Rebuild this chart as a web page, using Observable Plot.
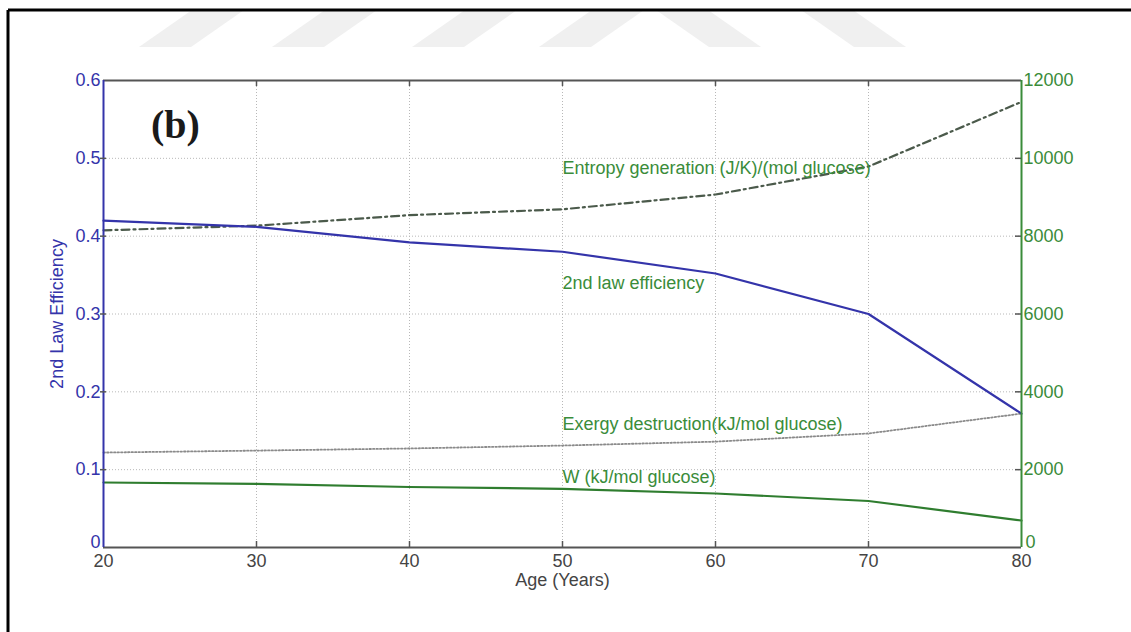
<!DOCTYPE html>
<html>
<head>
<meta charset="utf-8">
<script src="https://cdn.jsdelivr.net/npm/d3@7"></script>
<script src="https://cdn.jsdelivr.net/npm/@observablehq/plot@0.6"></script>
<style>
  body { margin: 0; background: #fff; }
  #wrap { position: relative; width: 1131px; height: 632px; overflow: hidden; background: #fff; }
  #deco { position: absolute; left: 0; top: 0; }
  #chart { position: absolute; left: 0; top: 0; }
</style>
</head>
<body>
<div id="wrap">
  <svg id="deco" width="1131" height="632"></svg>
  <div id="chart"></div>
</div>
<script>
// ---- data ----
const ages = [20, 30, 40, 50, 60, 70, 80];
const efficiency = [0.42, 0.412, 0.392, 0.38, 0.352, 0.30, 0.172];           // left axis
const entropyGen = [8150, 8270, 8540, 8690, 9070, 9790, 11450];              // right axis
const exergyDest = [2440, 2490, 2545, 2620, 2720, 2930, 3440];               // right axis
const workW      = [1670, 1636, 1555, 1508, 1388, 1195, 694];                // right axis

const xTicks = [20, 30, 40, 50, 60, 70, 80];
const yTicks = [0, 0.1, 0.2, 0.3, 0.4, 0.5, 0.6];
const yTickLabels = ["0", "0.1", "0.2", "0.3", "0.4", "0.5", "0.6"];
const rightTickLabels = ["0", "2000", "4000", "6000", "8000", "10000", "12000"];
const rightMax = 12000;   // right axis top
const leftMax = 0.6;      // left axis top

const seriesNames = ["Entropy generation (J/K)/(mol glucose)", "2nd law efficiency",
                     "Exergy destruction(kJ/mol glucose)", "W (kJ/mol glucose)"];
const labelAge = [50, 50, 50, 50];
const labelValue = [0.487, 0.339, 0.159, 0.09];
const panelTag = ["(b)"];
const panelAge = [24.7];
const panelValue = [0.543];

// ---- decoration (frame + faint watermark) ----
const deco = d3.select("#deco");
const stripesUp = [139, 272, 412, 539];
const stripesDown = [709, 854];
stripesUp.forEach(a => deco.append("polygon")
  .attr("points", `${a},47 ${a+52},47 ${a+105},10 ${a+53},10`).attr("fill", "#f0f0f0"));
stripesDown.forEach(a => deco.append("polygon")
  .attr("points", `${a},47 ${a+52},47 ${a-1},10 ${a-53},10`).attr("fill", "#f0f0f0"));
deco.append("line").attr("x1", 8).attr("y1", 10).attr("x2", 1131).attr("y2", 10).attr("stroke", "#000").attr("stroke-width", 3);
deco.append("line").attr("x1", 8).attr("y1", 10).attr("x2", 8).attr("y2", 632).attr("stroke", "#000").attr("stroke-width", 3);

// ---- chart ----
const toLeft = v => v * leftMax / rightMax;
const rows = ages.map((a, i) => ({age: a, eff: efficiency[i], ent: toLeft(entropyGen[i]), exd: toLeft(exergyDest[i]), w: toLeft(workW[i])}));
const labels = seriesNames.map((n, i) => ({name: n, age: labelAge[i], v: labelValue[i]}));

const blue = "#3434aa";
const green = "#3a8c3a";
const W = 1131, H = 632, mL = 103, mR = 110, mT = 80, mB = 85;
const pw = W - mL - mR, ph = H - mT - mB;

const chart = Plot.plot({
  width: W, height: H,
  marginLeft: mL, marginRight: mR, marginTop: mT, marginBottom: mB,
  x: {domain: [20, 80]},
  y: {domain: [0, 0.6]},
  style: {fontFamily: "'Liberation Sans', Arial, sans-serif", fontSize: "18px", background: "transparent", overflow: "visible"},
  marks: [
    Plot.frame({fill: "#fff", stroke: "none"}),
    Plot.gridX(xTicks.slice(1, -1), {stroke: "#b8b8b8", strokeOpacity: 1, strokeDasharray: "1,2"}),
    Plot.gridY(yTicks.slice(1, -1), {stroke: "#b8b8b8", strokeOpacity: 1, strokeDasharray: "1,2"}),
    // series
    Plot.line(rows, {x: "age", y: "exd", stroke: "#8a8a8a", strokeWidth: 1.8, strokeDasharray: "1.5,2"}),
    Plot.line(rows, {x: "age", y: "w", stroke: "#2f7d2f", strokeWidth: 2.2}),
    Plot.line(rows, {x: "age", y: "ent", stroke: "#4b5a4b", strokeWidth: 2.2, strokeDasharray: "8,4,2,4"}),
    Plot.line(rows, {x: "age", y: "eff", stroke: blue, strokeWidth: 2.2}),
    // box
    Plot.ruleY([0.6], {stroke: "#555", strokeWidth: 2}),
    Plot.ruleY([0], {stroke: "#555", strokeWidth: 2}),
    Plot.ruleX([20], {stroke: blue, strokeWidth: 2}),
    Plot.ruleX([80], {stroke: green, strokeWidth: 2}),
    // inward ticks
    Plot.ruleY(yTicks.slice(1, -1), {stroke: "#555", strokeWidth: 1.5, insetRight: pw - 6, dx: -3}),
    Plot.ruleY(yTicks.slice(1, -1), {stroke: "#555", strokeWidth: 1.5, insetLeft: pw - 6}),
    Plot.ruleX(xTicks.slice(1, -1), {stroke: "#555", strokeWidth: 1.5, insetTop: ph - 6}),
    Plot.ruleX(xTicks.slice(1, -1), {stroke: "#555", strokeWidth: 1.5, insetBottom: ph - 6}),
    // axes
    Plot.axisX(xTicks, {tickSize: 0, tickPadding: 7, fill: "#444", label: null}),
    Plot.axisY(yTicks.slice(1), {anchor: "left", tickSize: 0, tickPadding: 3, fill: blue, label: null,
      tickFormat: (d, i) => yTickLabels[i + 1]}),
    Plot.axisY(yTicks.slice(1), {anchor: "right", tickSize: 0, tickPadding: 2, fill: green, label: null,
      tickFormat: (d, i) => rightTickLabels[i + 1]}),
    // zero labels (slightly raised so they sit just above the x tick labels)
    Plot.text([yTickLabels[0]], {x: xTicks[0], y: yTicks[0], text: d => d, textAnchor: "end", dx: -3, dy: -5, fill: blue}),
    Plot.text([rightTickLabels[0]], {x: xTicks[xTicks.length - 1], y: yTicks[0], text: d => d, textAnchor: "start", dx: 4, dy: -5, fill: green}),
    Plot.text(["Age (Years)"], {text: d => d, frameAnchor: "bottom", dy: 38, fill: "#444"}),
    Plot.text(["2nd Law Efficiency"], {text: d => d, frameAnchor: "left", textAnchor: "middle", rotate: -90, dx: -46, fill: blue}),
    // annotations
    Plot.text(labels, {x: "age", y: "v", text: "name", textAnchor: "start", fill: green}),
    Plot.text(panelTag, {x: panelAge, y: panelValue, text: d => d, fontFamily: "'Liberation Serif', 'Times New Roman', serif",
      fontWeight: "bold", fontSize: 40, fill: "#1a1a1a"})
  ]
});
document.getElementById("chart").appendChild(chart);
</script>
</body>
</html>
